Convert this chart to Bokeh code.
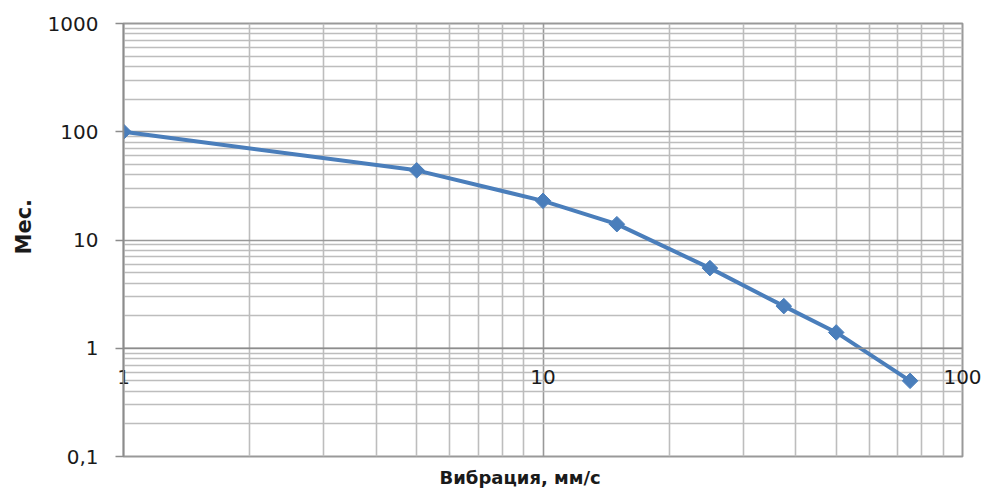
import math
from bokeh.plotting import figure
from bokeh.models import FixedTicker, Title, Range1d, Span
from bokeh.embed import file_html
from bokeh.resources import INLINE

# data
vibration = [1, 5, 10, 15, 25, 37.5, 50, 75]
months = [100, 44, 23, 14, 5.5, 2.45, 1.4, 0.5]

x_tick_values = [1, 10, 100]
x_tick_labels = ["1", "10", "100"]
y_tick_values = [0.1, 1, 10, 100, 1000]
y_tick_labels = ["0,1", "1", "10", "100", "1000"]
x_axis_crossing = 1

x_minor = [m * d for d in (1, 10) for m in range(2, 10)]
y_minor = [m * d for d in (0.1, 1, 10, 100) for m in range(2, 10)]

BLUE = "#4a7ebb"
FONT = "DejaVu Sans"
AXIS_GRAY = "#8c8c8c"

p = figure(width=984, height=495, x_axis_type="log", y_axis_type="log",
           x_range=Range1d(1, 100), y_range=Range1d(0.1, 1000),
           output_backend="svg", toolbar_location=None,
           min_border_left=123, min_border_right=22,
           min_border_top=23, min_border_bottom=38)
p.background_fill_color = "white"
p.outline_line_color = "#999999"
p.outline_line_width = 2

# grids
p.xgrid.ticker = FixedTicker(ticks=x_tick_values, minor_ticks=x_minor)
p.ygrid.ticker = FixedTicker(ticks=y_tick_values, minor_ticks=y_minor)
for g in (p.xgrid, p.ygrid):
    g.grid_line_color = "#999999"
    g.grid_line_width = 1.6
    g.minor_grid_line_color = "#bdbdbd"
    g.minor_grid_line_width = 1.6

# x axis: labels shown at the crossing value (y = 1)
xa = p.xaxis[0]
xa.ticker = FixedTicker(ticks=x_tick_values, minor_ticks=[])
xa.major_label_overrides = {v: t for v, t in zip(x_tick_values, x_tick_labels)}
xa.axis_line_color = None
xa.major_tick_line_color = None
xa.minor_tick_line_color = None
xa.major_tick_out = 0
xa.major_tick_in = 0
xa.minor_tick_out = 0
xa.minor_tick_in = 0
xa.major_label_standoff = -87
xa.major_label_text_font = FONT
xa.major_label_text_font_size = "20px"
xa.major_label_text_color = "#1a1a1a"

ax = p.yaxis[0]
ax.ticker = FixedTicker(ticks=y_tick_values, minor_ticks=[])
ax.major_label_overrides = {v: t for v, t in zip(y_tick_values, y_tick_labels)}
ax.axis_line_color = AXIS_GRAY
ax.axis_line_width = 1.6
ax.major_tick_line_color = AXIS_GRAY
ax.major_tick_line_width = 1.6
ax.major_tick_out = 8
ax.major_tick_in = 0
ax.minor_tick_out = 0
ax.minor_tick_in = 0
ax.major_label_standoff = 17
ax.major_label_text_font = FONT
ax.major_label_text_font_size = "20px"
ax.major_label_text_color = "#1a1a1a"

# horizontal axis line at the crossing value
p.add_layout(Span(location=x_axis_crossing, dimension="width",
                  line_color=AXIS_GRAY, line_width=1.6))

# series
p.line(vibration, months, line_color=BLUE, line_width=4)
p.scatter(vibration, months, marker="square", angle=math.pi / 4, size=11,
          color=BLUE)

# axis titles
p.add_layout(Title(text="Вибрация, мм/с", align="left", offset=316, standoff=16,
                   text_font=FONT, text_font_size="18px", text_font_style="bold",
                   text_color="#1a1a1a"), "below")
p.add_layout(Title(text="Мес.", align="left", offset=202, standoff=18,
                   text_font=FONT, text_font_size="21px", text_font_style="bold",
                   text_color="#1a1a1a"), "left")

open("out.html", "w").write(file_html(p, INLINE))
